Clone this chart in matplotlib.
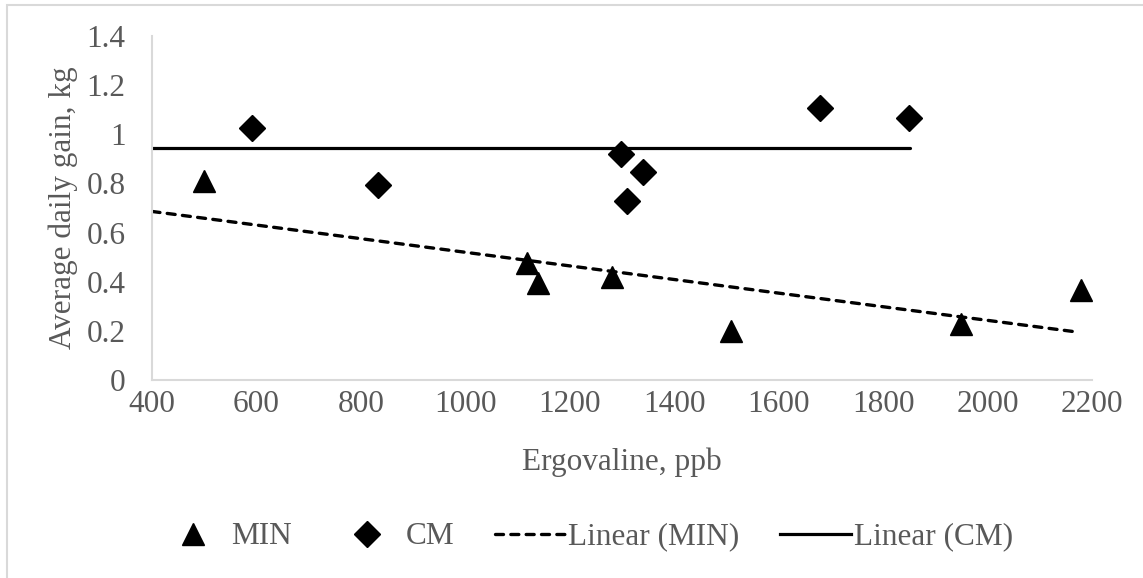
import numpy as np
import matplotlib
matplotlib.use("Agg")
import matplotlib.pyplot as plt
from matplotlib.lines import Line2D
from matplotlib.patches import Rectangle
from matplotlib.ticker import FuncFormatter

# data
minX = [500, 1119, 1140, 1280, 1509, 1949, 2179]
minY = [0.809, 0.475, 0.394, 0.418, 0.199, 0.227, 0.366]
cmX = [591, 833, 1299, 1310, 1340, 1679, 1850]
cmY = [1.026, 0.795, 0.921, 0.730, 0.845, 1.105, 1.068]

# trendline ends as drawn in the chart
minTrendX = [400, 2176]
minTrendY = [0.686, 0.194]
cmTrendX = [400, 1852]
cmTrendY = [0.944, 0.944]

xTicks = [400, 600, 800, 1000, 1200, 1400, 1600, 1800, 2000, 2200]
yTicks = [0, 0.2, 0.4, 0.6, 0.8, 1, 1.2, 1.4]

plt.rcParams['font.family'] = ['Liberation Serif', 'DejaVu Serif']
grey = '#595959'
axisGrey = '#d9d9d9'
fs = 22.5

fig = plt.figure(figsize=(11.43, 5.78), dpi=100)
ax = fig.add_axes([152/1143, 1 - 380/578, 940/1143, 344/578])

ax.plot(minTrendX, minTrendY, color='black', lw=2.4, dashes=(2.4, 2.2),
        dash_capstyle='round', solid_capstyle='round')
ax.plot(cmTrendX, cmTrendY, color='black', lw=2.3, solid_capstyle='round')
ax.plot(minX, minY, ls='none', marker='^', ms=16, color='black')
ax.plot(cmX, cmY, ls='none', marker='D', ms=13, color='black',
        markeredgewidth=1, markeredgecolor='black')

ax.set_xlim(400, 2200)
ax.set_ylim(0, 1.4)
ax.set_xticks(xTicks)
ax.set_yticks(yTicks)
ax.yaxis.set_major_formatter(FuncFormatter(lambda v, p: '%g' % round(v, 2)))
ax.tick_params(axis='both', length=0, labelsize=fs, labelcolor=grey)
ax.tick_params(axis='y', pad=19)
ax.tick_params(axis='x', pad=7)

for s in ['top', 'right']:
    ax.spines[s].set_visible(False)
for s in ['left', 'bottom']:
    ax.spines[s].set_color(axisGrey)
    ax.spines[s].set_linewidth(1.5)

ax.set_xlabel('Ergovaline, ppb', fontsize=fs, color=grey, labelpad=21)
ax.set_ylabel('Average daily gain, kg', fontsize=fs, color=grey, labelpad=6)

handles = [
    Line2D([], [], ls='none', marker='^', ms=16, color='black'),
    Line2D([], [], ls='none', marker='D', ms=13, color='black'),
    Line2D([], [], color='black', lw=2.4, dashes=(2.4, 2.2), dash_capstyle='round'),
    Line2D([], [], color='black', lw=2.3),
]
labels = ['MIN', 'CM', 'Linear (MIN)', 'Linear (CM)']
leg = fig.legend(handles, labels, loc='center', bbox_to_anchor=(0.512, 0.071),
                 ncol=4, frameon=False, fontsize=fs, handlelength=2.25,
                 handletextpad=0.1, columnspacing=1.3)
for t in leg.get_texts():
    t.set_color(grey)

# chart area border (only top/left visible in the crop)
fig.patches.append(Rectangle((7/1143, -0.1), 1.2, 1.1 - 5/578,
                             transform=fig.transFigure, fill=False,
                             edgecolor=axisGrey, lw=1.5))

fig.savefig('out.png', dpi=100)
